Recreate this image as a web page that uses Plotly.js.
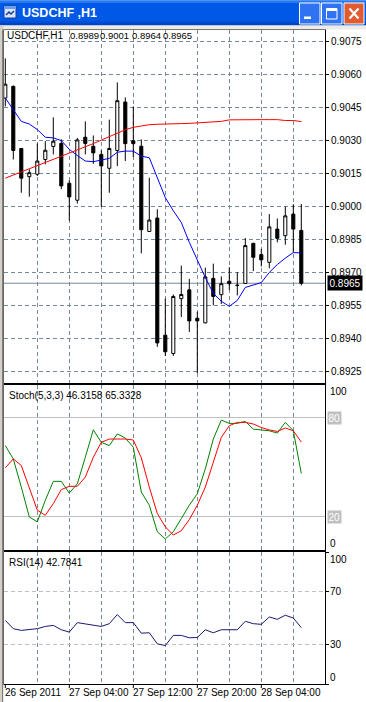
<!DOCTYPE html>
<html><head><meta charset="utf-8">
<script src="https://cdn.plot.ly/plotly-3.0.1.min.js"></script>
<style>html,body{margin:0;padding:0;background:#fff;overflow:hidden}#chart{width:366px;height:702px}</style>
</head><body><div id="chart"></div>
<script>
// ---------------- data ----------------
const windowTitle = 'USDCHF ,H1';
const symbolLabel = 'USDCHF,H1';
const timeLabels = ['26 Sep 2011', '27 Sep 04:00', '27 Sep 12:00', '27 Sep 20:00', '28 Sep 04:00'];
const timeLabelBars = [0, 8, 16, 24, 32];
const gridBars = [4, 8, 12, 16, 20, 24, 28, 32, 36];
const priceTicks = [0.8925, 0.8940, 0.8955, 0.8970, 0.8985, 0.9000, 0.9015, 0.9030, 0.9045, 0.9060, 0.9075];

const openP  = [0.90491,0.90544,0.90262,0.90134,0.90145,0.90212,0.90271,0.90285,0.90104,0.90027,
                0.90313,0.90272,0.90235,0.90172,0.90253,0.90473,0.90297,0.90272,0.89885,0.89946,
                0.89414,0.89331,0.89580,0.89620,0.89491,0.89470,0.89672,0.89598,0.89659,0.89640,
                0.89649,0.89831,0.89780,0.89745,0.89896,0.89866,0.89964,0.8989];
const highP  = [0.90671,0.90548,0.90262,0.90167,0.90285,0.90295,0.90403,0.90303,0.90117,0.90310,
                0.90385,0.90321,0.90254,0.90393,0.90562,0.90494,0.90453,0.90303,0.90129,0.89986,
                0.89580,0.89599,0.89730,0.89670,0.89521,0.89721,0.89739,0.89681,0.89723,0.89700,
                0.89855,0.89834,0.89806,0.89964,0.89944,0.89998,0.90009,0.9001];
const lowP   = [0.90453,0.90212,0.90061,0.90043,0.90137,0.90190,0.90235,0.90077,0.89934,0.90012,
                0.90235,0.90192,0.89997,0.90061,0.90182,0.90205,0.90223,0.89786,0.89884,0.89361,
                0.89320,0.89320,0.89497,0.89429,0.89242,0.89468,0.89550,0.89556,0.89620,0.89595,
                0.89648,0.89705,0.89726,0.89718,0.89836,0.89825,0.89790,0.8964];
const closeP = [0.90554,0.90253,0.90127,0.90152,0.90205,0.90254,0.90295,0.90092,0.90042,0.90301,
                0.90285,0.90242,0.90183,0.90262,0.90479,0.90284,0.90284,0.89893,0.89937,0.89379,
                0.89339,0.89590,0.89599,0.89479,0.89479,0.89679,0.89590,0.89648,0.89648,0.89641,
                0.89821,0.89768,0.89756,0.89906,0.89854,0.89956,0.89896,0.8965];

const maFast = [0.90491,0.90436,0.90385,0.90373,0.90348,0.90313,0.90310,0.90298,0.90258,0.90230,
                0.90205,0.90202,0.90208,0.90217,0.90245,0.90250,0.90250,0.90227,0.90220,0.90129,
                0.90039,0.89979,0.89926,0.89836,0.89753,0.89676,0.89604,0.89568,0.89545,0.89572,
                0.89631,0.89642,0.89653,0.89699,0.89735,0.89764,0.89789,0.89788];
const maSlow = [0.90127,0.90141,0.90155,0.90169,0.90183,0.90197,0.90211,0.90225,0.90240,0.90254,
                0.90268,0.90284,0.90300,0.90315,0.90331,0.90347,0.90358,0.90365,0.90370,0.90372,
                0.90372,0.90374,0.90375,0.90376,0.90378,0.90379,0.90381,0.90385,0.90392,0.90393,
                0.90393,0.90393,0.90393,0.90393,0.90393,0.90389,0.90389,0.90384];

const stochMain   = [63.2,55.1,38.0,19.9,16.9,30.0,41.5,41.5,34.4,40.0,
                     56.1,72.8,65.2,63.2,70.3,67.8,62.2,35.0,27.0,10.9,
                     6.5,10.9,18.9,27.0,34.0,49.1,67.2,78.7,76.7,76.7,
                     77.9,73.2,72.7,72.2,70.8,77.3,72.2,46.3158];
const stochSignal = [49.7,55.1,51.1,38.0,24.0,20.9,28.0,36.5,38.5,38.5,
                     44.1,56.1,65.2,67.2,67.2,67.2,66.6,55.8,38.0,22.0,
                     13.9,8.9,11.5,18.3,27.0,38.0,53.1,68.2,75.3,77.3,
                     77.3,76.3,74.2,72.7,71.8,73.9,72.2,65.3328];
const stochLevels = [20, 80];
const stochScale = [0, 100];

const rsi = [48.3,42.0,40.7,41.2,42.0,43.7,44.5,41.2,39.4,46.6,
             45.8,45.0,43.7,45.8,52.7,46.6,46.6,38.6,38.9,30.5,
             29.2,36.9,36.9,35.1,35.3,41.2,38.9,41.2,41.2,41.2,
             47.6,45.8,45.3,50.9,49.1,52.2,50.1,42.7841];
const rsiLevels = [30, 70];
const rsiScale = [0, 100];

// ---------------- helpers (layout only) ----------------
const W = 366, H = 702, ML = 4, MR = 41, MT = 30, MB = 18;
const PW = W - ML - MR, PH = H - MT - MB;
const X = px => (px - ML) / PW;
const Y = py => (H - MB - py) / PH;
const last = closeP.length - 1;
const barIdx = closeP.map((_, i) => i);
const FONT = 'Liberation Sans, Arial, sans-serif';
const FS = 10;

const traces = [
  {type: 'candlestick', x: barIdx, open: openP, high: highP, low: lowP, close: closeP,
   xaxis: 'x', yaxis: 'y', whiskerwidth: 0, hoverinfo: 'skip', showlegend: false,
   increasing: {line: {color: '#000000', width: 1}, fillcolor: '#ffffff'},
   decreasing: {line: {color: '#000000', width: 1}, fillcolor: '#000000'}},
  {type: 'scatter', mode: 'lines', x: barIdx, y: maFast, xaxis: 'x', yaxis: 'y',
   line: {color: '#0000ff', width: 1}, hoverinfo: 'skip', showlegend: false},
  {type: 'scatter', mode: 'lines', x: barIdx, y: maSlow, xaxis: 'x', yaxis: 'y',
   line: {color: '#ff0000', width: 1}, hoverinfo: 'skip', showlegend: false},
  {type: 'scatter', mode: 'lines', x: barIdx, y: stochMain, xaxis: 'x', yaxis: 'y2',
   line: {color: '#008000', width: 1}, hoverinfo: 'skip', showlegend: false},
  {type: 'scatter', mode: 'lines', x: barIdx, y: stochSignal, xaxis: 'x', yaxis: 'y2',
   line: {color: '#ff0000', width: 1}, hoverinfo: 'skip', showlegend: false},
  {type: 'scatter', mode: 'lines', x: barIdx, y: rsi, xaxis: 'x', yaxis: 'y3',
   line: {color: '#191970', width: 1}, hoverinfo: 'skip', showlegend: false}
];

const GRID = '#778899';
const DASH = '4px,3px';

const shapes = [];
const annotations = [];

// window chrome: title bar bands
[[0, 1, '#4a93f5'], [1, 3, '#2a78ee'], [3, 21, '#0058e6'], [21, 23, '#004fd6'], [23, 25.5, '#0044c2']]
  .forEach(b => shapes.push({type: 'rect', xref: 'paper', yref: 'paper', x0: X(0), x1: X(W),
    y0: Y(b[1]), y1: Y(b[0]), fillcolor: b[2], line: {width: 0}, layer: 'above'}));
// frame strips
shapes.push({type: 'rect', xref: 'paper', yref: 'paper', x0: X(0), x1: X(W), y0: Y(29.5), y1: Y(25.5),
  fillcolor: '#ecebe6', line: {width: 0}, layer: 'above'});
shapes.push({type: 'rect', xref: 'paper', yref: 'paper', x0: X(0), x1: X(3.5), y0: Y(H), y1: Y(25.5),
  fillcolor: '#d4d0c8', line: {width: 0}, layer: 'above'});
shapes.push({type: 'line', xref: 'paper', yref: 'paper', x0: X(2.5), x1: X(2.5), y0: Y(H), y1: Y(29.5),
  line: {color: '#808080', width: 1}, layer: 'above'});
// app icon
shapes.push({type: 'rect', xref: 'paper', yref: 'paper', x0: X(4), x1: X(16), y0: Y(18), y1: Y(6),
  fillcolor: '#d6e6ff', line: {color: '#1b3d9a', width: 1}, layer: 'above'});
shapes.push({type: 'rect', xref: 'paper', yref: 'paper', x0: X(4), x1: X(16), y0: Y(9), y1: Y(6),
  fillcolor: '#6f9fe8', line: {width: 0}, layer: 'above'});
shapes.push({type: 'path', xref: 'paper', yref: 'paper', layer: 'above',
  path: `M${X(6)},${Y(15)} L${X(9)},${Y(12)} L${X(11)},${Y(14)} L${X(14)},${Y(11)}`,
  line: {color: '#1b3d9a', width: 1.5}});
// buttons
const btn = (x0, x1, fill) => shapes.push({type: 'rect', xref: 'paper', yref: 'paper',
  x0: X(x0), x1: X(x1), y0: Y(24), y1: Y(3), fillcolor: fill, line: {color: '#ffffff', width: 1}, layer: 'above'});
btn(299.5, 320, '#2f72f2');
btn(321.5, 342, '#2f72f2');
btn(344, 364, '#e05a32');
shapes.push({type: 'rect', xref: 'paper', yref: 'paper', x0: X(304), x1: X(311), y0: Y(19), y1: Y(16.5),
  fillcolor: '#ffffff', line: {width: 0}, layer: 'above'});
shapes.push({type: 'rect', xref: 'paper', yref: 'paper', x0: X(326.5), x1: X(337), y0: Y(19), y1: Y(8.5),
  fillcolor: 'rgba(0,0,0,0)', line: {color: '#ffffff', width: 1}, layer: 'above'});
shapes.push({type: 'rect', xref: 'paper', yref: 'paper', x0: X(326.5), x1: X(337), y0: Y(11), y1: Y(8.5),
  fillcolor: '#ffffff', line: {width: 0}, layer: 'above'});
shapes.push({type: 'path', xref: 'paper', yref: 'paper', layer: 'above',
  path: `M${X(349.5)},${Y(8.5)} L${X(358.5)},${Y(18.5)} M${X(358.5)},${Y(8.5)} L${X(349.5)},${Y(18.5)}`,
  line: {color: '#ffffff', width: 2.2}});

// bid line
shapes.push({type: 'line', xref: 'paper', x0: 0, x1: 1, yref: 'y', y0: closeP[last], y1: closeP[last],
  line: {color: GRID, width: 1}, layer: 'between'});
// time tick marks
timeLabelBars.forEach(b => shapes.push({type: 'line', xref: 'x', x0: b, x1: b, yref: 'paper',
  y0: Y(684), y1: Y(688), line: {color: '#000000', width: 1}, layer: 'above'}));

// title text
annotations.push({xref: 'paper', yref: 'paper', x: X(20), y: Y(13), xanchor: 'left', yanchor: 'middle',
  text: '<b>' + windowTitle + '</b>', showarrow: false,
  font: {family: 'Liberation Sans, Arial, sans-serif', size: 12.5, color: '#ffffff'}});
// header of main panel
annotations.push({xref: 'paper', yref: 'paper', x: X(5), y: Y(36), xanchor: 'left', yanchor: 'middle',
  text: symbolLabel, showarrow: false, font: {size: FS}});
[[openP[last], 68.5], [highP[last], 99.2], [lowP[last], 130.5], [closeP[last], 162]].forEach(v =>
  annotations.push({xref: 'paper', yref: 'paper', x: X(v[1]), y: Y(36), xanchor: 'left', yanchor: 'middle',
    text: v[0].toFixed(4), showarrow: false, borderpad: 0, font: {size: 9.5}}));
annotations.push({xref: 'paper', yref: 'paper', x: X(6.5), y: Y(395), xanchor: 'left', yanchor: 'middle',
  text: 'Stoch(5,3,3) ' + stochMain[last].toFixed(4) + ' ' + stochSignal[last].toFixed(4),
  showarrow: false, font: {size: FS}});
annotations.push({xref: 'paper', yref: 'paper', x: X(6.5), y: Y(562), xanchor: 'left', yanchor: 'middle',
  text: 'RSI(14) ' + rsi[last].toFixed(4), showarrow: false, font: {size: FS}});
// bid price label
annotations.push({xref: 'paper', yref: 'y', x: X(326.5), y: closeP[last], xanchor: 'left', yanchor: 'middle',
  text: closeP[last].toFixed(4), showarrow: false, bgcolor: '#000000', borderpad: 1.5,
  font: {size: FS, color: '#ffffff'}});
// stochastic scale labels
annotations.push({xref: 'paper', yref: 'paper', x: X(328), y: Y(391.5), xanchor: 'left', yanchor: 'middle',
  text: String(stochScale[1]), showarrow: false, font: {size: FS}});
annotations.push({xref: 'paper', yref: 'paper', x: X(328), y: Y(543), xanchor: 'left', yanchor: 'middle',
  text: String(stochScale[0]), showarrow: false, font: {size: FS}});
stochLevels.forEach(v => annotations.push({xref: 'paper', yref: 'y2', x: X(327), y: v,
  xanchor: 'left', yanchor: 'middle', text: String(v), showarrow: false, bgcolor: '#c0c0c0', borderpad: 0.5,
  font: {size: FS, color: '#ffffff'}}));
// RSI scale labels
annotations.push({xref: 'paper', yref: 'paper', x: X(328), y: Y(559), xanchor: 'left', yanchor: 'middle',
  text: String(rsiScale[1]), showarrow: false, font: {size: FS}});
annotations.push({xref: 'paper', yref: 'paper', x: X(328), y: Y(677.5), xanchor: 'left', yanchor: 'middle',
  text: String(rsiScale[0]), showarrow: false, font: {size: FS}});
rsiLevels.forEach(v => annotations.push({xref: 'paper', yref: 'y3', x: X(328), y: v,
  xanchor: 'left', yanchor: 'middle', text: String(v), showarrow: false, font: {size: FS}}));
// time labels
timeLabels.forEach((t, i) => annotations.push({xref: 'x', yref: 'paper', x: timeLabelBars[i], y: Y(692.5),
  xanchor: 'left', yanchor: 'middle', xshift: -1.5, text: t, showarrow: false, borderpad: 0, font: {size: FS}}));

const layout = {
  width: W, height: H,
  margin: {l: ML, r: MR, t: MT, b: MB, pad: 0},
  paper_bgcolor: '#ffffff', plot_bgcolor: '#ffffff',
  font: {family: FONT, size: FS, color: '#000000'},
  showlegend: false, hovermode: false, boxgap: 0.45,
  xaxis: {domain: [0, 1], range: [-0.1625, 39.9625], anchor: 'y3', fixedrange: true,
    tickmode: 'array', tickvals: gridBars, showticklabels: false, ticks: '',
    showgrid: true, gridcolor: GRID, griddash: DASH, gridwidth: 1, zeroline: false,
    showline: true, mirror: 'all', linecolor: '#000000', linewidth: 1,
    rangeslider: {visible: false}},
  yaxis: {domain: [(H - MB - 383) / PH, 1], range: [0.89197, 0.90800], anchor: 'x', side: 'right',
    fixedrange: true, tickmode: 'array', tickvals: priceTicks, ticktext: priceTicks.map(v => v.toFixed(4)),
    ticks: 'outside', ticklen: 3, tickcolor: '#000000', tickfont: {size: FS},
    showgrid: true, gridcolor: GRID, griddash: DASH, gridwidth: 1, zeroline: false,
    showline: true, mirror: true, linecolor: '#000000', linewidth: 1},
  yaxis2: {domain: [(H - MB - 549.7) / PH, (H - MB - 385) / PH], range: stochScale, anchor: 'x', side: 'right',
    fixedrange: true, tickmode: 'array', tickvals: stochScale.concat(stochLevels), showticklabels: false,
    ticks: '', showgrid: true, gridcolor: '#c0c0c0', gridwidth: 1, zeroline: false,
    showline: true, mirror: true, linecolor: '#000000', linewidth: 1},
  yaxis3: {domain: [0, (H - MB - 552.3) / PH], range: rsiScale, anchor: 'x', side: 'right',
    fixedrange: true, tickmode: 'array', tickvals: rsiScale.concat(rsiLevels), showticklabels: false,
    ticks: 'outside', ticklen: 3, tickcolor: '#000000', showgrid: true, gridcolor: '#c0c0c0', griddash: DASH,
    gridwidth: 1, zeroline: false, showline: true, mirror: true, linecolor: '#000000', linewidth: 1},
  shapes: shapes,
  annotations: annotations
};

Plotly.newPlot('chart', traces, layout, {displayModeBar: false, staticPlot: true});
</script>
</body></html>
